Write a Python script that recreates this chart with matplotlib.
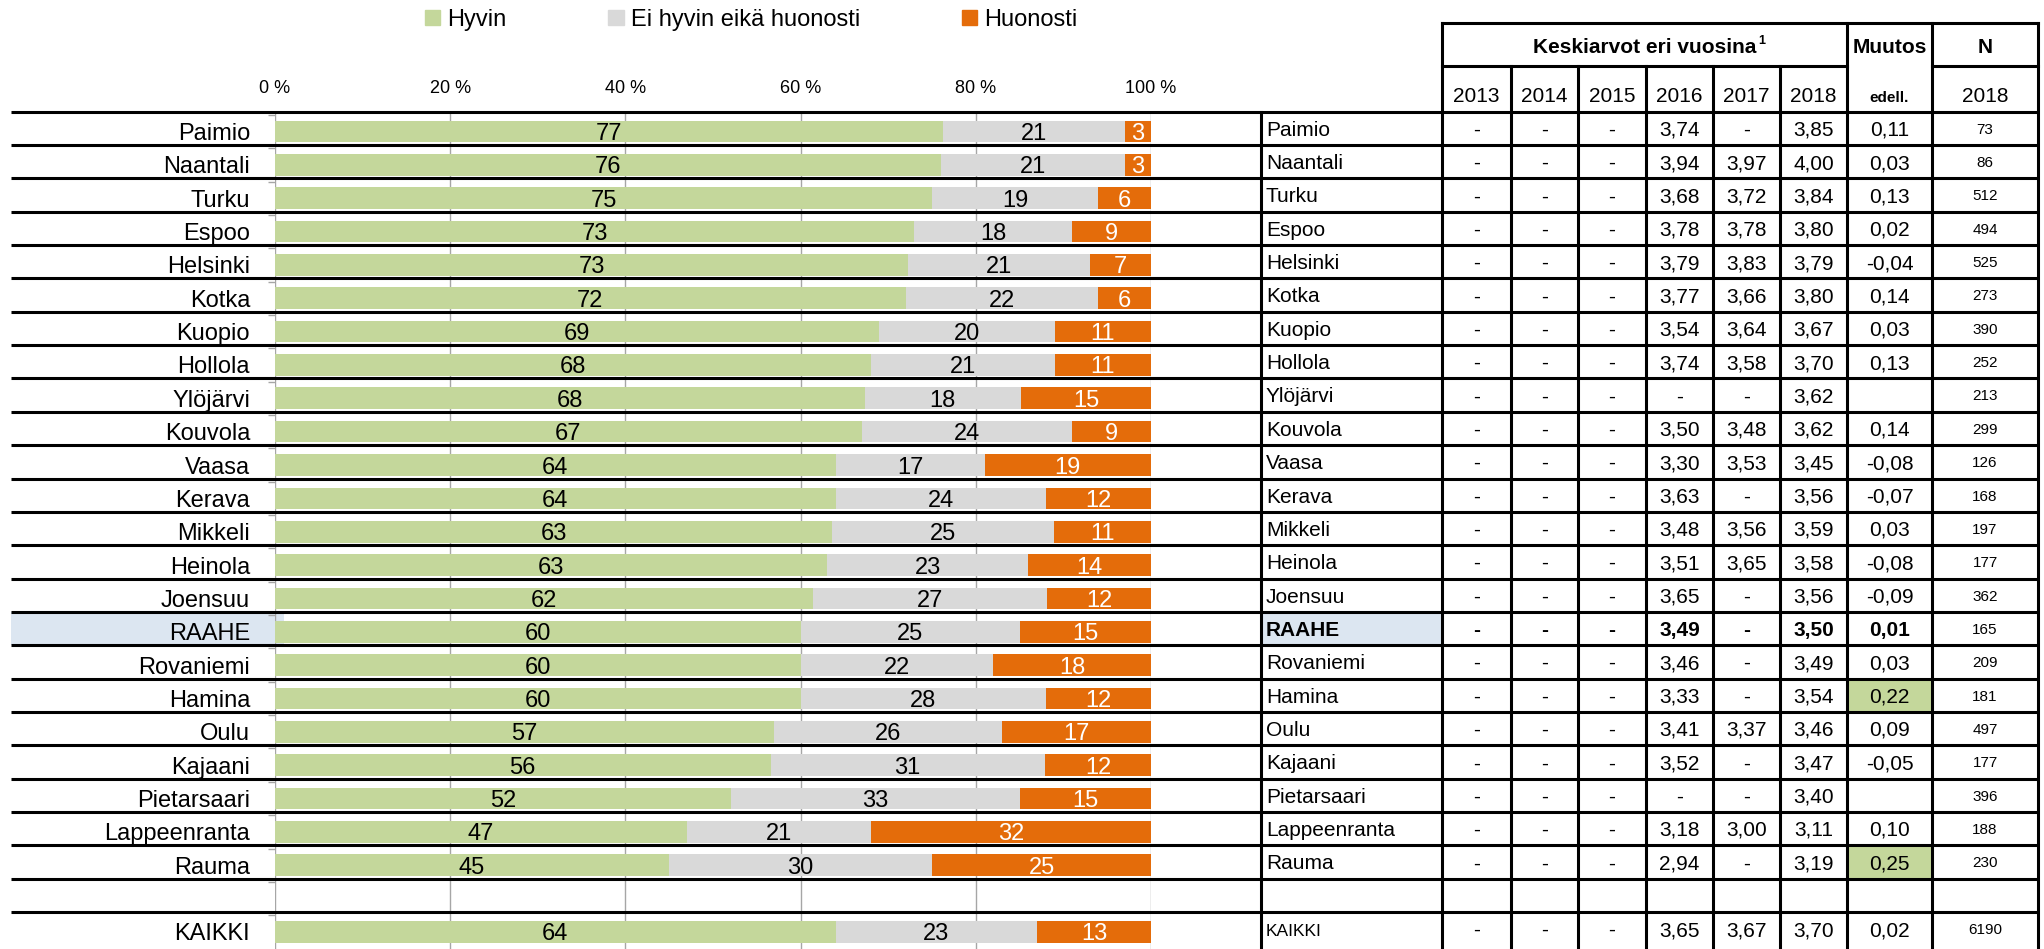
import numpy as np
import matplotlib.pyplot as plt
import matplotlib.patches as mpatches
from matplotlib.patches import Rectangle

plt.rcParams['font.family'] = ['Liberation Sans', 'DejaVu Sans']

# ---------------------------------------------------------------------------
# Data
# ---------------------------------------------------------------------------
kunnat = ['Paimio', 'Naantali', 'Turku', 'Espoo', 'Helsinki', 'Kotka', 'Kuopio',
          'Hollola', 'Ylöjärvi', 'Kouvola', 'Vaasa', 'Kerava', 'Mikkeli', 'Heinola',
          'Joensuu', 'RAAHE', 'Rovaniemi', 'Hamina', 'Oulu', 'Kajaani',
          'Pietarsaari', 'Lappeenranta', 'Rauma', 'KAIKKI']
hyvin = [77, 76, 75, 73, 73, 72, 69, 68, 68, 67, 64, 64, 63, 63, 62, 60, 60, 60,
         57, 56, 52, 47, 45, 64]
neutraali = [21, 21, 19, 18, 21, 22, 20, 21, 18, 24, 17, 24, 25, 23, 27, 25, 22, 28,
             26, 31, 33, 21, 30, 23]
huonosti = [3, 3, 6, 9, 7, 6, 11, 11, 15, 9, 19, 12, 11, 14, 12, 15, 18, 12,
            17, 12, 15, 32, 25, 13]

vuodet = ['2013', '2014', '2015', '2016', '2017', '2018']
ka_2013 = [None, None, None, None, None, None, None, None, None, None, None, None,
           None, None, None, None, None, None, None, None, None, None, None, None]
ka_2014 = [None, None, None, None, None, None, None, None, None, None, None, None,
           None, None, None, None, None, None, None, None, None, None, None, None]
ka_2015 = [None, None, None, None, None, None, None, None, None, None, None, None,
           None, None, None, None, None, None, None, None, None, None, None, None]
ka_2016 = [3.74, 3.94, 3.68, 3.78, 3.79, 3.77, 3.54, 3.74, None, 3.50, 3.30, 3.63,
           3.48, 3.51, 3.65, 3.49, 3.46, 3.33, 3.41, 3.52, None, 3.18, 2.94, 3.65]
ka_2017 = [None, 3.97, 3.72, 3.78, 3.83, 3.66, 3.64, 3.58, None, 3.48, 3.53, None,
           3.56, 3.65, None, None, None, None, 3.37, None, None, 3.00, None, 3.67]
ka_2018 = [3.85, 4.00, 3.84, 3.80, 3.79, 3.80, 3.67, 3.70, 3.62, 3.62, 3.45, 3.56,
           3.59, 3.58, 3.56, 3.50, 3.49, 3.54, 3.46, 3.47, 3.40, 3.11, 3.19, 3.70]
muutos = [0.11, 0.03, 0.13, 0.02, -0.04, 0.14, 0.03, 0.13, None, 0.14, -0.08, -0.07,
          0.03, -0.08, -0.09, 0.01, 0.03, 0.22, 0.09, -0.05, None, 0.10, 0.25, 0.02]
n_2018 = [73, 86, 512, 494, 525, 273, 390, 252, 213, 299, 126, 168, 197, 177, 362,
          165, 209, 181, 497, 177, 396, 188, 230, 6190]

oma_kunta = 'RAAHE'
merkittava_muutos = ['Hamina', 'Rauma']

# ---------------------------------------------------------------------------
# Layout (pixels)
# ---------------------------------------------------------------------------
W, H, DPI = 2044, 949, 100
ROW_C0 = 131.5      # centre of first bar, px from top
ROW_H = 33.35       # row pitch
HEAD_Y = 111.65     # header bottom line
X0, X1 = 275, 1151  # 0 % and 100 %

GREEN = '#c4d79b'
GREY = '#d9d9d9'
ORANGE = '#e46c0a'
BLUE = '#dce6f1'
GRIDC = '#a6a6a6'

FS_BAR = 17     # labels, bar numbers, legend
FS_TAB = 15     # table text

# table column edges
COLS = [1442, 1511, 1578, 1646, 1713, 1780, 1847, 1932, 2038]
CITY_X = 1261

# positions: blank row before the total
pos = list(range(len(kunnat) - 1)) + [len(kunnat)]

fig = plt.figure(figsize=(W / DPI, H / DPI), dpi=DPI)
fig.patch.set_facecolor('white')

# background layer (highlight cells)
bg = fig.add_axes([0, 0, 1, 1], zorder=0)
bg.set_xlim(0, W)
bg.set_ylim(H, 0)
bg.axis('off')

# bar chart
ax = fig.add_axes([X0 / W, 0, (X1 - X0) / W, (H - HEAD_Y) / H], zorder=1)
ax.patch.set_visible(False)
ax.set_xlim(0, 100)
ax.set_ylim((H - ROW_C0) / ROW_H, (HEAD_Y - ROW_C0) / ROW_H)

# top layer (black rules + table)
tp = fig.add_axes([0, 0, 1, 1], zorder=2)
tp.set_xlim(0, W)
tp.set_ylim(H, 0)
tp.axis('off')

# ---------------------------------------------------------------------------
# Bars
# ---------------------------------------------------------------------------
h = np.array(hyvin, float)
n = np.array(neutraali, float)
b = np.array(huonosti, float)
tot = h + n + b
hs, ns, bs = h / tot * 100, n / tot * 100, b / tot * 100

BAR_H = 0.648
ax.barh(pos, hs, height=BAR_H, color=GREEN, zorder=2)
ax.barh(pos, ns, left=hs, height=BAR_H, color=GREY, zorder=2)
ax.barh(pos, bs, left=hs + ns, height=BAR_H, color=ORANGE, zorder=2)

for i, y in enumerate(pos):
    ax.text(hs[i] / 2, y, str(hyvin[i]), ha='center', va='center_baseline',
            fontsize=FS_BAR, color='black', zorder=3)
    ax.text(hs[i] + ns[i] / 2, y, str(neutraali[i]), ha='center',
            va='center_baseline', fontsize=FS_BAR, color='black', zorder=3)
    ax.text(hs[i] + ns[i] + bs[i] / 2, y, str(huonosti[i]), ha='center',
            va='center_baseline', fontsize=FS_BAR, color='white', zorder=3)

# axes styling
for s in ax.spines.values():
    s.set_visible(False)
ax.set_xticks([0, 20, 40, 60, 80, 100],
              labels=['0\u00a0%', '20\u00a0%', '40\u00a0%', '60\u00a0%', '80\u00a0%', '100\u00a0%'])
ax.xaxis.tick_top()
ax.tick_params(axis='x', length=0, pad=10.5, labelsize=13)
ax.xaxis.grid(True, color=GRIDC, lw=1.0)
ax.set_axisbelow(True)

ax.set_yticks(pos, labels=kunnat)
ax.tick_params(axis='y', which='major', length=0, pad=18, labelsize=FS_BAR)
for lab in ax.get_yticklabels():
    lab.set_verticalalignment('center_baseline')
ax.set_yticks([k - 0.5 for k in range(len(kunnat) + 1)], minor=True)
ax.tick_params(axis='y', which='minor', length=5, width=1, color=GRIDC)

# ---------------------------------------------------------------------------
# Highlights
# ---------------------------------------------------------------------------
for i, k in enumerate(kunnat):
    top_y = HEAD_Y + pos[i] * ROW_H
    if k == oma_kunta:
        bg.add_patch(Rectangle((11, top_y), 284 - 11, ROW_H, color=BLUE, lw=0))
        bg.add_patch(Rectangle((CITY_X, top_y), COLS[0] - CITY_X, ROW_H, color=BLUE, lw=0))
    if k in merkittava_muutos:
        bg.add_patch(Rectangle((COLS[6], top_y), COLS[7] - COLS[6], ROW_H, color=GREEN, lw=0))

# ---------------------------------------------------------------------------
# Black rules
# ---------------------------------------------------------------------------
LW = 2.2
for k in range(len(kunnat) + 1):
    y = HEAD_Y + k * ROW_H
    tp.plot([11, COLS[-1]], [y, y], color='black', lw=LW, solid_capstyle='butt')

# table frame
tp.plot([CITY_X, CITY_X], [HEAD_Y, H], color='black', lw=LW)
for x in [COLS[0], COLS[6], COLS[7], COLS[8]]:
    tp.plot([x, x], [23, H], color='black', lw=LW)
for x in COLS[1:6]:
    tp.plot([x, x], [66, H], color='black', lw=LW)
tp.plot([COLS[0], COLS[-1]], [23, 23], color='black', lw=LW)
tp.plot([COLS[0], COLS[6]], [66, 66], color='black', lw=LW)
tp.plot([COLS[7], COLS[8]], [66, 66], color='black', lw=LW)

# ---------------------------------------------------------------------------
# Table header
# ---------------------------------------------------------------------------
hdr = tp.text((COLS[0] + COLS[6]) / 2, 53, 'Keskiarvot eri vuosina', ha='center',
              va='baseline', fontsize=FS_TAB, fontweight='bold')
tp.annotate('1', xy=(1.0, 0.85), xycoords=hdr, xytext=(1.5, 0),
            textcoords='offset points', ha='left', va='center', fontsize=9,
            fontweight='bold')
tp.text((COLS[6] + COLS[7]) / 2, 53, 'Muutos', ha='center', va='baseline',
        fontsize=FS_TAB, fontweight='bold')
tp.text((COLS[7] + COLS[8]) / 2, 53, 'N', ha='center', va='baseline',
        fontsize=FS_TAB, fontweight='bold')
for j, v in enumerate(vuodet):
    tp.text((COLS[j] + COLS[j + 1]) / 2, 102, v, ha='center', va='baseline',
            fontsize=FS_TAB)
tp.text((COLS[6] + COLS[7]) / 2, 102, 'edell.', ha='center', va='baseline',
        fontsize=11, fontweight='bold')
tp.text((COLS[7] + COLS[8]) / 2, 102, '2018', ha='center', va='baseline',
        fontsize=FS_TAB)

# ---------------------------------------------------------------------------
# Table body
# ---------------------------------------------------------------------------
def fmt(v, empty='-'):
    if v is None:
        return empty
    return f'{v:.2f}'.replace('.', ',')

for i, k in enumerate(kunnat):
    yb = HEAD_Y + pos[i] * ROW_H + 24
    wt = 'bold' if k == oma_kunta else 'normal'
    tp.text(CITY_X + 5, yb, k, ha='left', va='baseline',
            fontsize=12.5 if k == 'KAIKKI' else FS_TAB, fontweight=wt)
    arvot = [ka_2013[i], ka_2014[i], ka_2015[i], ka_2016[i], ka_2017[i], ka_2018[i]]
    for j, v in enumerate(arvot):
        tp.text((COLS[j] + COLS[j + 1]) / 2, yb, fmt(v), ha='center',
                va='baseline', fontsize=FS_TAB, fontweight=wt)
    tp.text((COLS[6] + COLS[7]) / 2, yb, fmt(muutos[i], ''), ha='center',
            va='baseline', fontsize=FS_TAB, fontweight=wt)
    tp.text((COLS[7] + COLS[8]) / 2, yb - 2, str(n_2018[i]), ha='center',
            va='baseline', fontsize=11)

# ---------------------------------------------------------------------------
# Legend
# ---------------------------------------------------------------------------
handles = [mpatches.Patch(color=GREEN, label='Hyvin'),
           mpatches.Patch(color=GREY, label='Ei hyvin eikä huonosti'),
           mpatches.Patch(color=ORANGE, label='Huonosti')]
fig.legend(handles=handles, loc='center left', bbox_to_anchor=(425 / W, 1 - 20 / H),
           ncol=3, frameon=False, fontsize=FS_BAR, handlelength=0.64, handleheight=0.59,
           handletextpad=0.3, columnspacing=4.32, borderpad=0, borderaxespad=0)

fig.savefig('out.png', dpi=DPI, facecolor='white')
